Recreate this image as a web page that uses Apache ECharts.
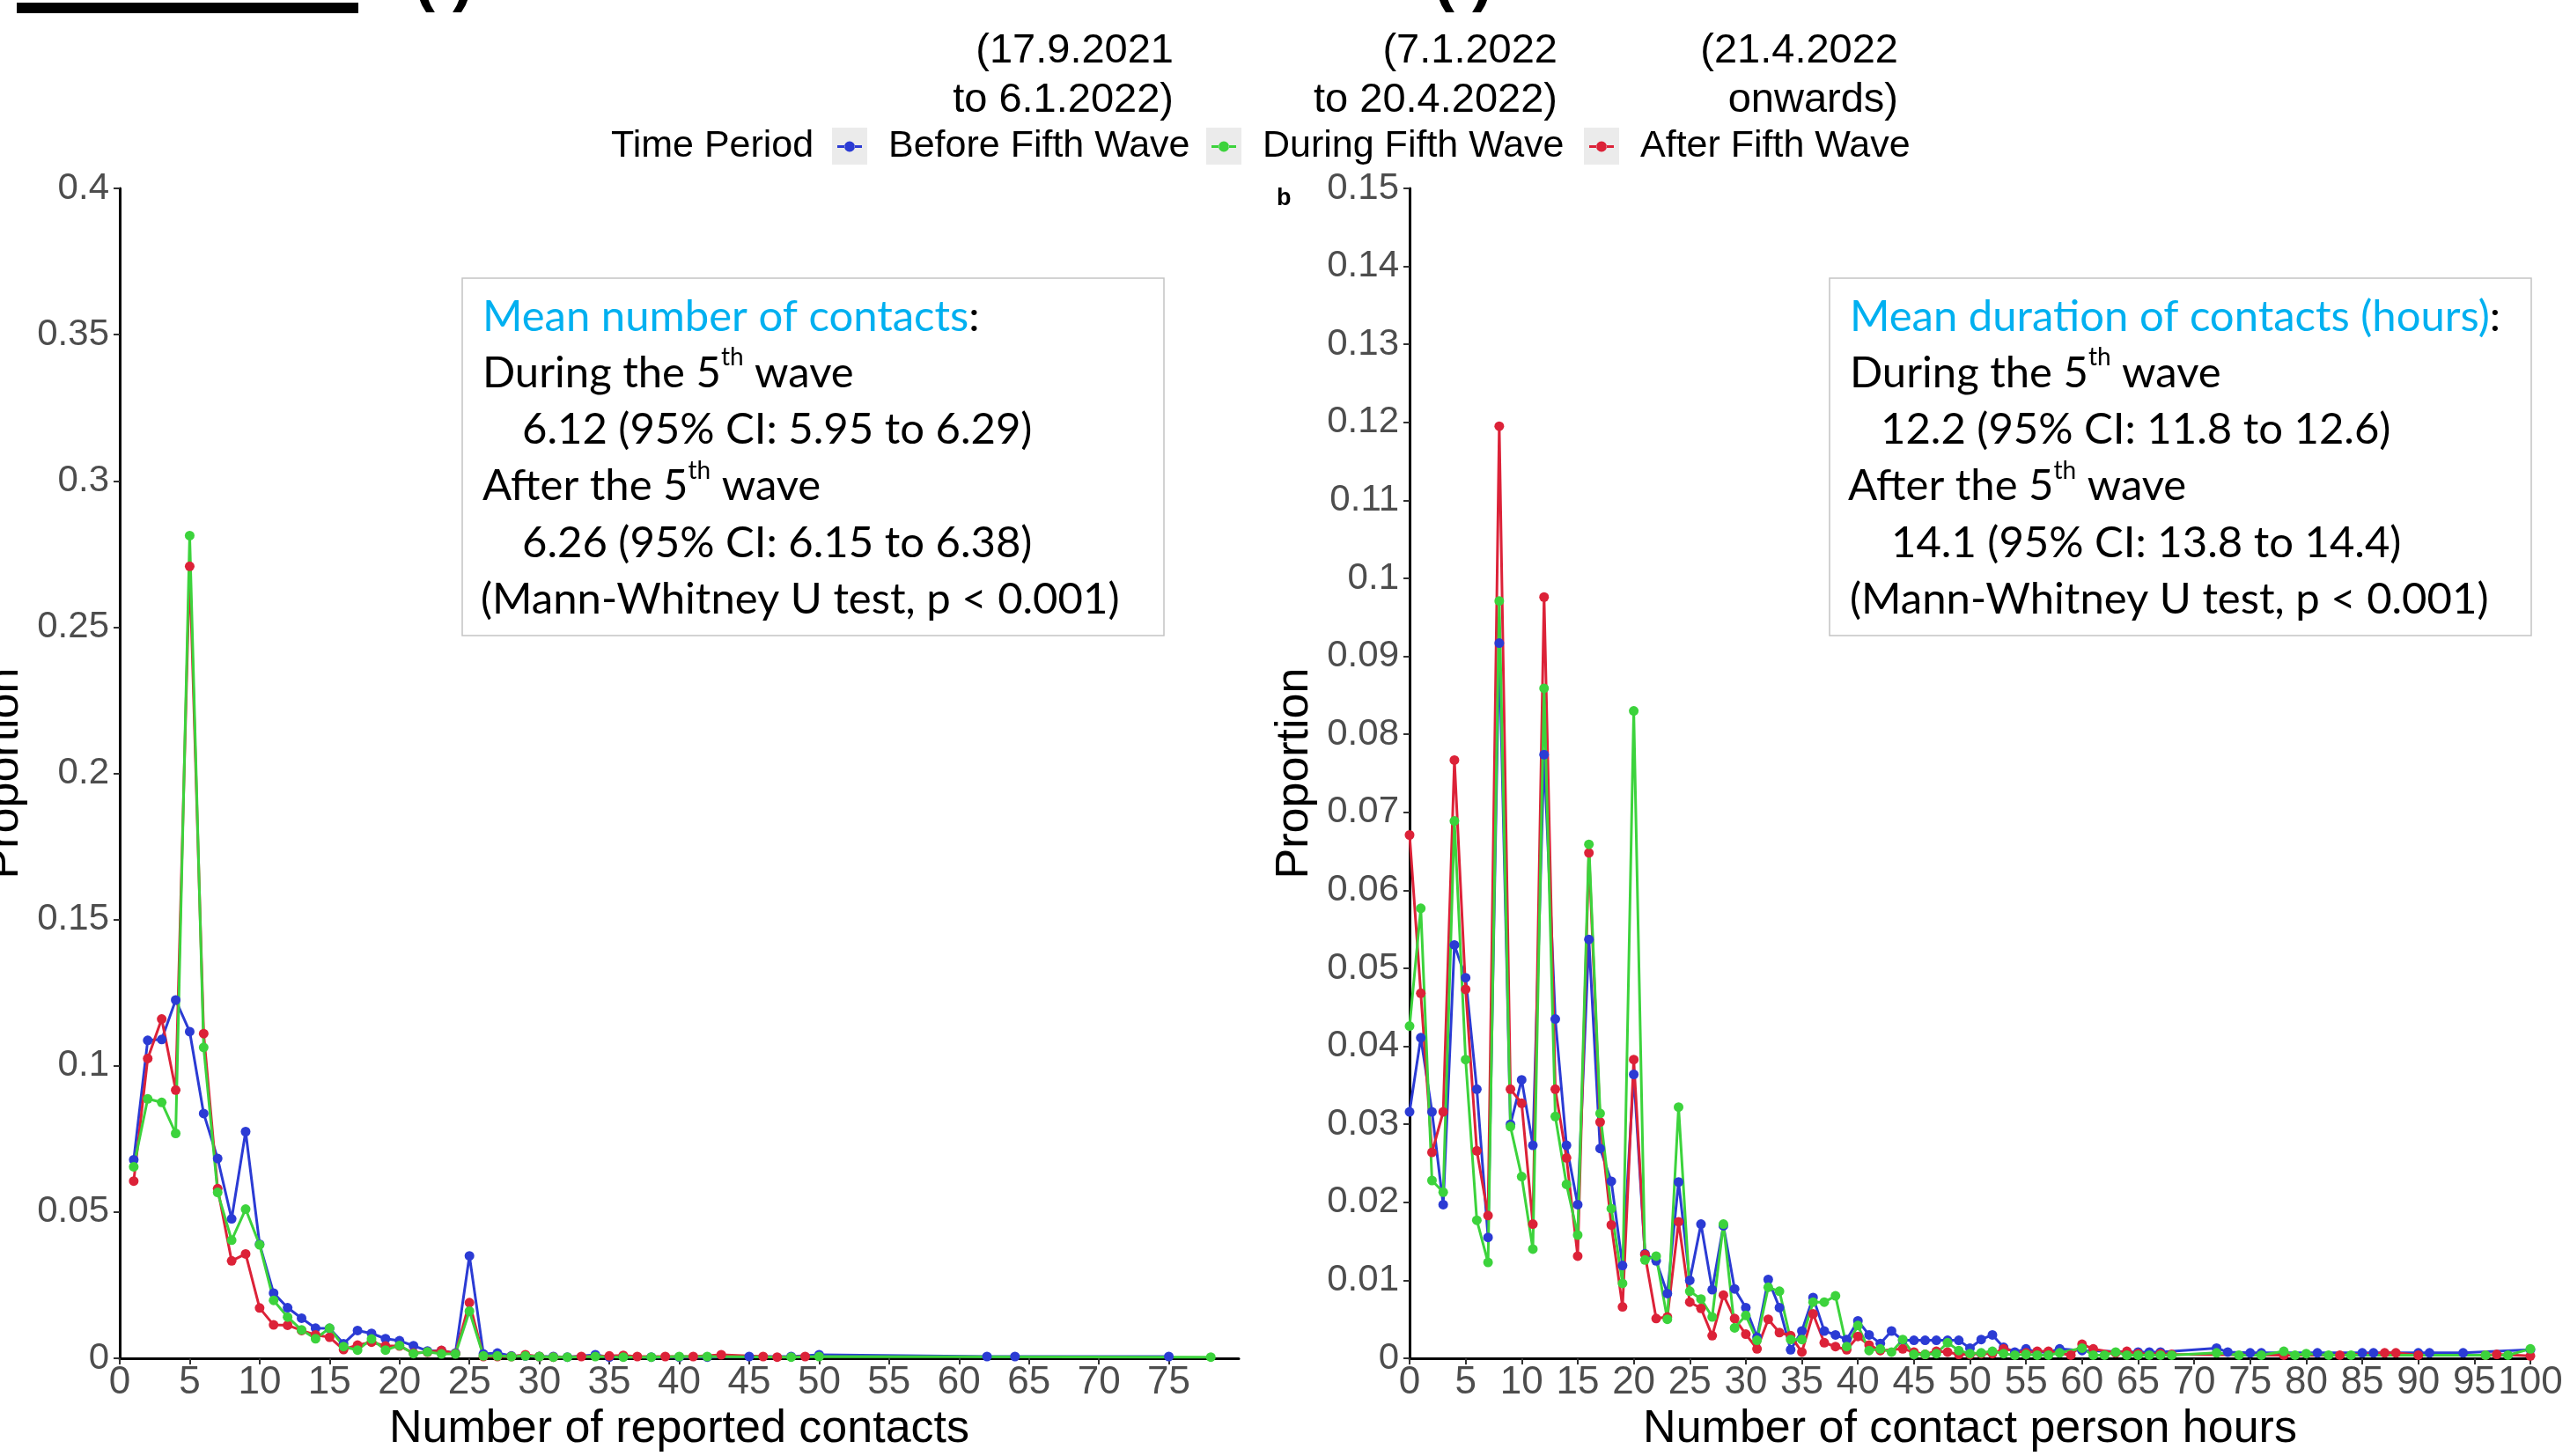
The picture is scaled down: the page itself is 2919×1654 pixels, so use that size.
<!DOCTYPE html>
<html>
<head>
<meta charset="utf-8">
<title>Contacts by time period</title>
<script src="https://cdn.jsdelivr.net/npm/echarts@6/dist/echarts.min.js"></script>
<style>
  html, body { margin: 0; padding: 0; background: #fff; }
  #chart { width: 2919px; height: 1654px; }
</style>
</head>
<body>
<div id="chart"></div>
<script>
var periods = ['Before Fifth Wave', 'During Fifth Wave', 'After Fifth Wave'];
var periodDates = [['(17.9.2021', 'to 6.1.2022)'], ['(7.1.2022', 'to 20.4.2022)'], ['(21.4.2022', 'onwards)']];
var colors = ['#2b3bd4', '#3cd33c', '#dc2238'];

// (a) proportion by number of reported contacts, [contacts, proportion]
var contactsBefore = [[1,0.0679],[2,0.1087],[3,0.109],[4,0.1225],[5,0.1117],[6,0.0837],[7,0.0683],[8,0.0477],[9,0.0775],[10,0.039],
  [11,0.0223],[12,0.0173],[13,0.0137],[14,0.0103],[15,0.0102],[16,0.005],[17,0.0095],[18,0.0085],[19,0.0067],[20,0.006],
  [21,0.0043],[22,0.0025],[23,0.0026],[24,0.0018],[25,0.035],[26,0.0015],[27,0.0018],[28,0.0008],[29,0.0008],[30,0.0006],
  [31,0.0006],[32,0.0004],[34,0.0012],[35,0.0004],[36,0.0006],[38,0.0004],[40,0.0004],[42,0.0004],[45,0.0006],[48,0.0006],
  [50,0.0012],[62,0.0006],[64,0.0006],[75,0.0006]];
var contactsDuring = [[1,0.0655],[2,0.0887],[3,0.0875],[4,0.0769],[5,0.2813],[6,0.1063],[7,0.0567],[8,0.0404],[9,0.051],[10,0.0388],
  [11,0.0198],[12,0.0141],[13,0.0097],[14,0.0067],[15,0.0103],[16,0.004],[17,0.0028],[18,0.0066],[19,0.0028],[20,0.0044],
  [21,0.0016],[22,0.0022],[23,0.0015],[24,0.0015],[25,0.0161],[26,0.0008],[27,0.0008],[28,0.0006],[29,0.0008],[30,0.0006],
  [31,0.0004],[32,0.0004],[34,0.0006],[36,0.0004],[38,0.0004],[40,0.0006],[42,0.0006],[48,0.0004],[50,0.0006],[78,0.0004]];
var contactsAfter = [[1,0.0606],[2,0.1025],[3,0.116],[4,0.0917],[5,0.2708],[6,0.111],[7,0.058],[8,0.0333],[9,0.0357],[10,0.0172],
  [11,0.0114],[12,0.0113],[13,0.0095],[14,0.008],[15,0.0072],[16,0.003],[17,0.0045],[18,0.0055],[19,0.0042],[20,0.0042],
  [21,0.0018],[22,0.0021],[23,0.0027],[24,0.0016],[25,0.019],[26,0.0006],[27,0.0006],[28,0.0006],[29,0.0012],[30,0.0006],
  [31,0.0004],[33,0.0006],[35,0.0008],[36,0.001],[37,0.0006],[39,0.0006],[41,0.0006],[43,0.0012],[46,0.0006],[47,0.0004],
  [49,0.0006]];

// (b) proportion by contact person hours, [hours, proportion]
var hoursBefore = [[0,0.0316],[1,0.0411],[2,0.0316],[3,0.0197],[4,0.053],[5,0.0488],[6,0.0345],[7,0.0155],[8,0.0917],[9,0.030],
  [10,0.0357],[11,0.0273],[12,0.0774],[13,0.0435],[14,0.0273],[15,0.0197],[16,0.0537],[17,0.0269],[18,0.0227],[19,0.0119],
  [20,0.0364],[21,0.0134],[22,0.0125],[23,0.0083],[24,0.0226],[25,0.010],[26,0.0172],[27,0.0088],[28,0.017],[29,0.0089],
  [30,0.0065],[31,0.0027],[32,0.0101],[33,0.0065],[34,0.0011],[35,0.0035],[36,0.0078],[37,0.0035],[38,0.003],[39,0.0024],
  [40,0.0048],[41,0.003],[42,0.0019],[43,0.0035],[44,0.0023],[45,0.0023],[46,0.0023],[47,0.0023],[48,0.0023],[49,0.0023],
  [50,0.0013],[51,0.0024],[52,0.003],[53,0.0014],[54,0.0008],[55,0.0012],[56,0.0008],[57,0.0008],[58,0.0012],[60,0.001],
  [65,0.0008],[66,0.0008],[67,0.0008],[72,0.0013],[73,0.0008],[75,0.0007],[76,0.0007],[81,0.0007],[85,0.0007],[86,0.0007],
  [90,0.0007],[91,0.0007],[94,0.0007],[100,0.0011]];
var hoursDuring = [[0,0.0426],[1,0.0577],[2,0.0228],[3,0.0213],[4,0.0689],[5,0.0383],[6,0.0177],[7,0.0123],[8,0.0971],[9,0.0297],
  [10,0.0233],[11,0.014],[12,0.0859],[13,0.031],[14,0.0223],[15,0.0158],[16,0.0659],[17,0.0314],[18,0.0192],[19,0.0096],
  [20,0.083],[21,0.0126],[22,0.0131],[23,0.005],[24,0.0322],[25,0.0086],[26,0.0076],[27,0.0053],[28,0.0172],[29,0.0039],
  [30,0.0055],[31,0.0023],[32,0.0091],[33,0.0086],[34,0.0024],[35,0.0024],[36,0.0072],[37,0.0072],[38,0.008],[39,0.0015],
  [40,0.0042],[41,0.001],[42,0.0012],[43,0.0008],[44,0.0024],[45,0.0005],[46,0.0005],[47,0.0006],[48,0.002],[49,0.001],
  [50,0.0006],[51,0.0007],[52,0.0009],[53,0.0006],[54,0.0004],[55,0.0005],[56,0.0004],[57,0.0004],[58,0.0007],[60,0.0013],
  [61,0.0004],[62,0.0004],[63,0.0008],[64,0.0004],[65,0.0004],[66,0.0004],[67,0.0004],[68,0.0004],[72,0.0007],[74,0.0004],
  [76,0.0004],[78,0.0009],[79,0.0004],[80,0.0006],[82,0.0004],[84,0.0004],[96,0.0004],[98,0.0004],[100,0.0012]];
var hoursAfter = [[0,0.0671],[1,0.0468],[2,0.0264],[3,0.0316],[4,0.0767],[5,0.0473],[6,0.0266],[7,0.0183],[8,0.1195],[9,0.0345],
  [10,0.0327],[11,0.0172],[12,0.0976],[13,0.0345],[14,0.0257],[15,0.0131],[16,0.0648],[17,0.0303],[18,0.0171],[19,0.0066],
  [20,0.0383],[21,0.0133],[22,0.0051],[23,0.0053],[24,0.0175],[25,0.0072],[26,0.0064],[27,0.0029],[28,0.0081],[29,0.0051],
  [30,0.0031],[31,0.0012],[32,0.005],[33,0.0033],[34,0.0029],[35,0.0008],[36,0.0057],[37,0.002],[38,0.0015],[39,0.0011],
  [40,0.0028],[41,0.0017],[42,0.001],[44,0.0012],[45,0.0008],[46,0.0005],[47,0.0009],[48,0.0008],[49,0.0005],[50,0.0005],
  [51,0.0006],[52,0.0006],[53,0.0012],[55,0.0007],[56,0.0009],[57,0.0009],[59,0.0004],[60,0.0018],[61,0.0012],[63,0.0007],
  [64,0.0009],[65,0.0006],[67,0.0006],[68,0.0005],[78,0.0004],[83,0.0004],[87,0.0007],[88,0.0007],[90,0.0004],[96,0.0004],
  [97,0.0005],[100,0.0003]];

var contactsTicks = [0,5,10,15,20,25,30,35,40,45,50,55,60,65,70,75];

var boxLinesA = ['{c|Mean number of contacts}:', 'During the 5{sup|th} wave', '6.12 (95% CI: 5.95 to 6.29)',
  'After the 5{sup|th} wave', '6.26 (95% CI: 6.15 to 6.38)', '(Mann-Whitney U test, p < 0.001)'];
var boxLinesB = ['{c|Mean duration of contacts (hours)}:', 'During the 5{sup|th} wave', '12.2 (95% CI: 11.8 to 12.6)',
  'After the 5{sup|th} wave', '14.1 (95% CI: 13.8 to 14.4)', '(Mann-Whitney U test, p < 0.001)'];

var chart = echarts.init(document.getElementById('chart'));

var font = 'Liberation Sans, Arial, sans-serif';
var boxFont = 'Lato, Open Sans, sans-serif';

function xAxisOf(grid, max, name, ticks) {
  var ax = {
    type: 'value', gridIndex: grid, min: 0, max: max, interval: 5,
    name: name, nameLocation: 'middle', nameGap: 54,
    nameTextStyle: { fontFamily: font, fontSize: 52, color: '#000' },
    axisLine: { show: true, onZero: false, lineStyle: { color: '#000', width: 3 } },
    axisTick: { show: true, length: 7, lineStyle: { color: '#333', width: 2 } },
    axisLabel: { fontFamily: font, fontSize: 44, color: '#4d4d4d', margin: 6 },
    splitLine: { show: false }
  };
  if (ticks) {
    ax.axisLabel.customValues = ticks;
    ax.axisTick.customValues = ticks;
  }
  return ax;
}

function yAxisOf(grid, max, interval) {
  return {
    type: 'value', gridIndex: grid, min: 0, max: max, interval: interval,
    name: 'Proportion', nameLocation: 'middle', nameGap: 104, nameRotate: 90,
    nameTextStyle: { fontFamily: font, fontSize: 52, color: '#000' },
    axisLine: { show: true, lineStyle: { color: '#000', width: 3 } },
    axisTick: { show: true, length: 7, lineStyle: { color: '#333', width: 2 } },
    axisLabel: { fontFamily: font, fontSize: 42, color: '#4d4d4d', margin: 12 },
    splitLine: { show: false }
  };
}

function lineOf(name, idx, data, color) {
  return {
    name: name, type: 'line', xAxisIndex: idx, yAxisIndex: idx, data: data,
    symbol: 'circle', symbolSize: 11, showSymbol: true,
    itemStyle: { color: color },
    lineStyle: { color: color, width: 3 }
  };
}

// line stub, dot, line stub (kept apart so the fill has no hole)
var legendIcon = 'path://M0,4.6H8.5V7.4H0Z M19.5,4.6H28V7.4H19.5Z M8,6a6,6 0 1,0 12,0a6,6 0 1,0 -12,0Z';
var legendLefts = [951, 1376, 1805];
var keyCenters = [965, 1390, 1819];
var headerRights = [1333, 1769, 2156];

var legends = periods.map(function (p, i) {
  return {
    data: [p], left: legendLefts[i], top: 145, padding: 0, selectedMode: false,
    icon: legendIcon, itemWidth: 28, itemHeight: 12,
    textStyle: { fontFamily: font, fontSize: 43, color: '#000', padding: [0, 0, 0, 25] }
  };
});

var graphics = [
  { type: 'rect', shape: { x: 19, y: 3, width: 388, height: 12 }, style: { fill: '#000' } },
  { type: 'text', x: 470, y: 15, style: { text: '( )', font: 'bold 72px Liberation Sans', fill: '#000', textVerticalAlign: 'bottom' } },
  { type: 'text', x: 1628, y: 15, style: { text: '( )', font: 'bold 72px Liberation Sans', fill: '#000', textVerticalAlign: 'bottom' } },
  { type: 'text', x: 694, y: 166, style: { text: 'Time Period', fontFamily: font, fontSize: 43, fill: '#000', textVerticalAlign: 'middle' } },
  { type: 'text', x: 1450, y: 226, style: { text: 'b', font: 'bold 27px Liberation Sans', fill: '#000', textVerticalAlign: 'middle' } }
];

keyCenters.forEach(function (cx) {
  graphics.push({ type: 'rect', z: -1, shape: { x: cx - 20, y: 145, width: 40, height: 42 }, style: { fill: '#ebebeb' } });
});

periodDates.forEach(function (lines, i) {
  lines.forEach(function (t, j) {
    graphics.push({ type: 'text', x: headerRights[i], y: 58 + j * 56,
      style: { text: t, fontFamily: font, fontSize: 47, fill: '#000', textAlign: 'right', textVerticalAlign: 'middle' } });
  });
});

function addBox(rect, lines, xs) {
  graphics.push({ type: 'rect', shape: rect, style: { fill: 'none', stroke: '#c4c4c4', lineWidth: 1.5 } });
  lines.forEach(function (t, j) {
    graphics.push({ type: 'text', x: xs[j], y: 360 + j * 64.2,
      style: {
        text: t, fontFamily: boxFont, fontSize: 49, fill: '#000', lineHeight: 64,
        textVerticalAlign: 'middle',
        rich: {
          c: { fontFamily: boxFont, fontSize: 49, fill: '#00b0f0', color: '#00b0f0', lineHeight: 64 },
          sup: { fontFamily: boxFont, fontSize: 28, lineHeight: 44, verticalAlign: 'top' }
        }
      } });
  });
}
addBox({ x: 525, y: 316, width: 797, height: 406 }, boxLinesA, [548, 548, 593, 548, 593, 546]);
addBox({ x: 2078, y: 316, width: 797, height: 406 }, boxLinesB, [2101, 2101, 2136, 2099, 2148, 2101]);

var option = {
  animation: false,
  backgroundColor: '#fff',
  grid: [
    { left: 136, top: 214, width: 1271, height: 1329, outerBoundsMode: 'none', containLabel: false },
    { left: 1601, top: 214, width: 1273, height: 1329, outerBoundsMode: 'none', containLabel: false }
  ],
  xAxis: [
    xAxisOf(0, 80, 'Number of reported contacts', contactsTicks),
    xAxisOf(1, 100, 'Number of contact person hours')
  ],
  yAxis: [yAxisOf(0, 0.4, 0.05), yAxisOf(1, 0.15, 0.01)],
  legend: legends,
  graphic: graphics,
  series: [
    lineOf(periods[0], 0, contactsBefore, colors[0]),
    lineOf(periods[2], 0, contactsAfter, colors[2]),
    lineOf(periods[1], 0, contactsDuring, colors[1]),
    lineOf(periods[0], 1, hoursBefore, colors[0]),
    lineOf(periods[2], 1, hoursAfter, colors[2]),
    lineOf(periods[1], 1, hoursDuring, colors[1])
  ]
};

chart.setOption(option);
</script>
</body>
</html>
